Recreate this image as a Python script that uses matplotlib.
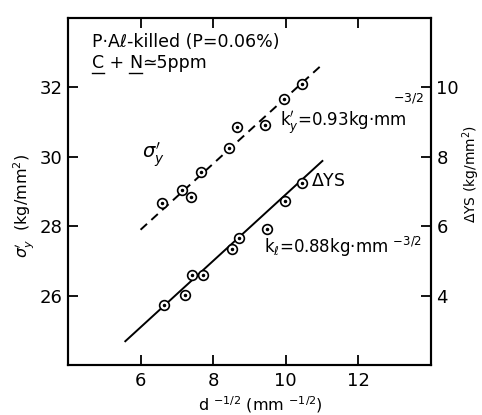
import matplotlib
matplotlib.use("Agg")
import matplotlib.pyplot as plt
from matplotlib.transforms import offset_copy

# grain size parameter d^-1/2 and measured values
x_sigma = [6.60, 7.14, 7.40, 7.66, 8.45, 8.66, 9.43, 9.94, 10.45]
y_sigma = [28.67, 29.05, 28.83, 29.56, 30.25, 30.86, 30.91, 31.66, 32.09]

x_dys = [6.65, 7.23, 7.41, 7.73, 8.51, 8.72, 9.49, 9.99, 10.46]
y_dys = [3.72, 4.01, 4.61, 4.61, 5.34, 5.65, 5.92, 6.73, 7.24]

# fitted lines (end points)
fit_sigma_x = [6.0, 11.0]
fit_sigma_y = [27.9, 32.65]
fit_dys_x = [5.58, 11.01]
fit_dys_y = [2.69, 7.88]

x_ticks = [6, 8, 10, 12]
left_ticks = [26, 28, 30, 32]
right_ticks = [4, 6, 8, 10]

plt.rcParams['font.family'] = ['DejaVu Sans']
plt.rcParams['mathtext.fontset'] = 'dejavusans'

fig = plt.figure(figsize=(4.82, 4.15), dpi=100)
ax = fig.add_axes([0.141, 0.120, 0.753, 0.837])
ax2 = ax.twinx()

ax.set_xlim(4, 14)
ax.set_ylim(24, 34)
ax2.set_ylim(2, 12)

mk = dict(marker='o', ms=7, mfc='white', mec='black', mew=1.2, ls='none', zorder=3)
dot = dict(marker='o', ms=1.5, color='black', ls='none', zorder=4)

ax.plot(fit_sigma_x, fit_sigma_y, color='black', lw=1.4, ls=(0, (4.5, 3)), zorder=2)
ax.plot(x_sigma, y_sigma, **mk)
ax.plot(x_sigma, y_sigma, **dot)

ax2.plot(fit_dys_x, fit_dys_y, color='black', lw=1.4, zorder=2)
ax2.plot(x_dys, y_dys, **mk)
ax2.plot(x_dys, y_dys, **dot)

for a in (ax, ax2):
    for s in a.spines.values():
        s.set_linewidth(1.5)

ax.set_xticks(x_ticks)
ax.set_yticks(left_ticks)
ax2.set_yticks(right_ticks)
ax.tick_params(axis='both', direction='in', length=7, width=1.3, labelsize=13, top=True)
ax.tick_params(axis='x', pad=5)
ax.tick_params(axis='y', pad=4)
ax2.tick_params(axis='y', direction='in', length=7, width=1.3, labelsize=13, pad=4)

ax.set_xlabel(r"d $^{-1/2}$ (mm $^{-1/2}$)", fontsize=11.5)
ax.xaxis.set_label_coords(0.53, -0.083)
ax.set_ylabel(r"$\sigma_y'$  (kg/mm$^2$)", fontsize=11.5)
ax.yaxis.set_label_coords(-0.085, 0.46)
ax2.set_ylabel(r"$\Delta$YS (kg/mm$^2$)", fontsize=10)
ax2.yaxis.set_label_coords(1.08, 0.55)

ax.text(4.65, 33.3, "P·Aℓ-killed (P=0.06%)", fontsize=12.5, va='center')

# "C + N ≃ 5ppm" with underlined C and N, drawn piece by piece
renderer = fig.canvas.get_renderer()
tr = ax.transData
pieces = [("C", True), (" + ", False), ("N", True), ("≃5ppm", False)]
fw, fh = fig.get_figwidth() * fig.dpi, fig.get_figheight() * fig.dpi
for s, under in pieces:
    t = ax.text(4.65, 32.7, s, fontsize=12.5, va='center', transform=tr)
    bb = t.get_window_extent(renderer)
    if under:
        y0 = bb.y0 - 0.5
        fig.add_artist(plt.Line2D([bb.x0 / fw, bb.x1 / fw], [y0 / fh] * 2,
                                  transform=fig.transFigure, color='black', lw=1.0))
    tr = offset_copy(t.get_transform(), fig=fig, x=bb.width, units='dots')

ax.text(6.05, 30.05, r"$\sigma_y'$", fontsize=14, va='center')
ax.text(9.85, 30.95, r"$\mathrm{k}_y'$=0.93kg·mm", fontsize=12, va='center')
ax.text(12.95, 31.7, r"$-3/2$", fontsize=9, va='center')
ax.text(10.7, 29.3, r"$\Delta$YS", fontsize=12.5, va='center')
ax.text(9.4, 27.4, r"k$_\ell$=0.88kg·mm $^{-3/2}$", fontsize=12, va='center')

fig.savefig("out.png", dpi=100)
